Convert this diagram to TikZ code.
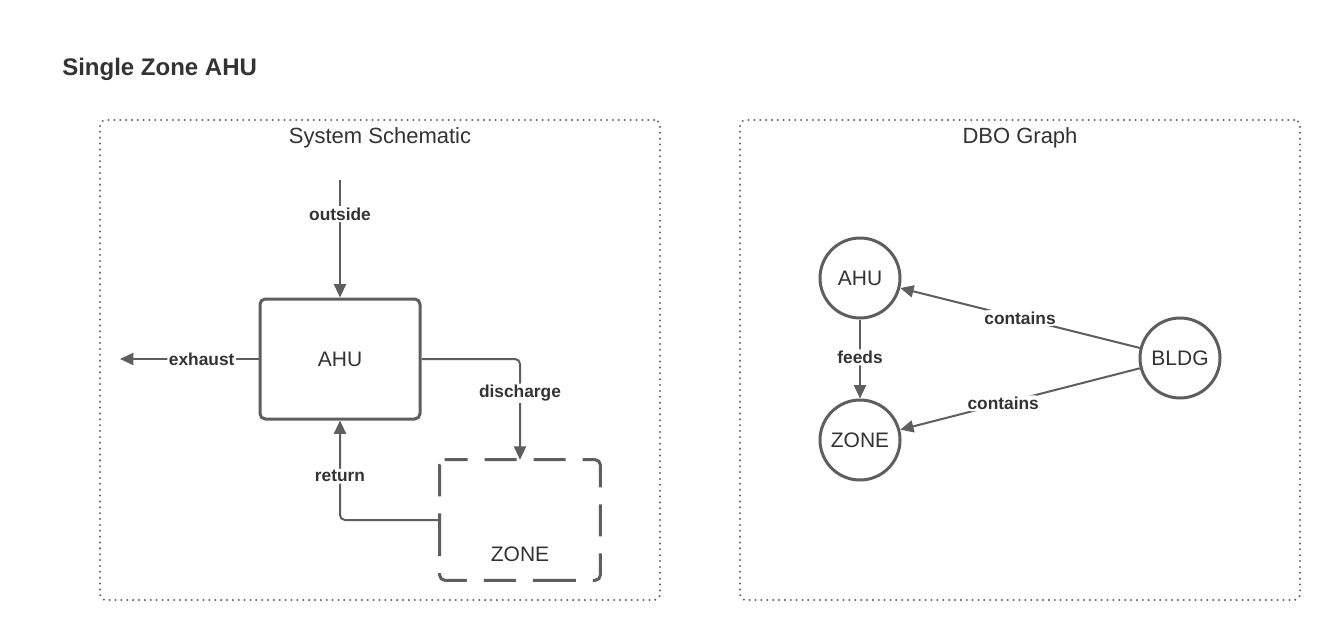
\documentclass[tikz,border=0pt]{standalone}
\usepackage{fontspec}
\setmainfont{Liberation Sans}
\usetikzlibrary{arrows.meta}
\definecolor{ln}{HTML}{5E5E5E}
\definecolor{tx}{HTML}{333333}
\definecolor{dotc}{HTML}{666666}
\tikzset{
  frame/.style={draw=dotc, line width=1.7pt, dash pattern=on 0pt off 4.4pt, line cap=round, rounded corners=4.5pt, minimum width=420pt, minimum height=360pt, inner sep=0pt},
  ftitle/.style={text=tx, font=\fontsize{16.5}{19}\selectfont, inner sep=0pt},
  boxnode/.style={draw=ln, line width=2.25pt, rounded corners=4pt, minimum width=120pt, minimum height=90pt, inner sep=0pt, text=tx, font=\fontsize{15.75}{18}\selectfont},
  zonebox/.style={minimum width=120pt, minimum height=90pt, inner sep=0pt},
  zoneborder/.style={draw=ln, line width=2.25pt, rounded corners=3.75pt, dash pattern=on 32.14pt off 12.75pt on 24pt off 12.75pt on 24pt off 12.75pt, dash phase=18.64pt},
  gnode/.style={draw=ln, line width=2.25pt, circle, minimum size=60pt, inner sep=0pt, text=tx, font=\fontsize{15.75}{18}\selectfont},
  conn/.style={draw=ln, line width=1.5pt, rounded corners=3.75pt, -{Triangle[length=10pt,width=9pt]}},
  lbl/.style={fill=white, text=tx, font=\bfseries\fontsize{13}{15}\selectfont, inner sep=1.2pt},
}
\begin{document}
\begin{tikzpicture}[x=0.75pt,y=-0.75pt]
\useasboundingbox (0,0) rectangle (1342,642);
\fill[white] (0,0) rectangle (1342,642);

% title
\node[anchor=base west, text=tx, font=\bfseries\fontsize{18}{21}\selectfont, inner sep=0pt] (title) at (62,75) {Single Zone AHU};

% frames
\node[frame] (f1) at (380,360) {};
\node[frame] (f2) at (1020,360) {};
\node[ftitle, anchor=base] (t1) at (380,143) {System Schematic};
\node[ftitle, anchor=base] (t2) at (1020,143) {DBO Graph};

% system schematic
\node[boxnode] (ahu) at (340,359) {AHU};
\node[zonebox] (zone) at (520,520) {};
\draw[zoneborder] ([xshift=3.75pt]zone.north west) -- (zone.north east) -- (zone.south east) -- (zone.south west) -- (zone.north west) -- cycle;
\node[text=tx, font=\fontsize{15.75}{18}\selectfont, inner sep=0pt, anchor=base] (zonelbl) at (520,561) {ZONE};

\coordinate (outs) at (340,180);
\coordinate (exh) at (120,359);
\draw[conn] (outs) -- node[lbl, pos=0.29] (lout) {outside} (ahu.north);
\draw[conn] (ahu.west) -- node[lbl, pos=0.41] (lexh) {exhaust} (exh);
\draw[conn] (ahu.east) -| node[lbl, pos=0.67] (ldis) {discharge} (zone.north);
\draw[conn] (zone.west) -| node[lbl, pos=0.72] (lret) {return} (ahu.south);

% DBO graph
\node[gnode] (gahu) at (860,278) {AHU};
\node[gnode] (gzone) at (860,440) {ZONE};
\node[gnode] (gbldg) at (1180,358) {BLDG};
\draw[conn] (gahu) -- node[lbl, pos=0.48] (lfeeds) {feeds} (gzone);
\draw[conn] (gbldg) -- node[lbl, pos=0.5] (lc1) {contains} (gahu);
\draw[conn] (gbldg) -- node[lbl, pos=0.57] (lc2) {contains} (gzone);
\end{tikzpicture}
\end{document}
